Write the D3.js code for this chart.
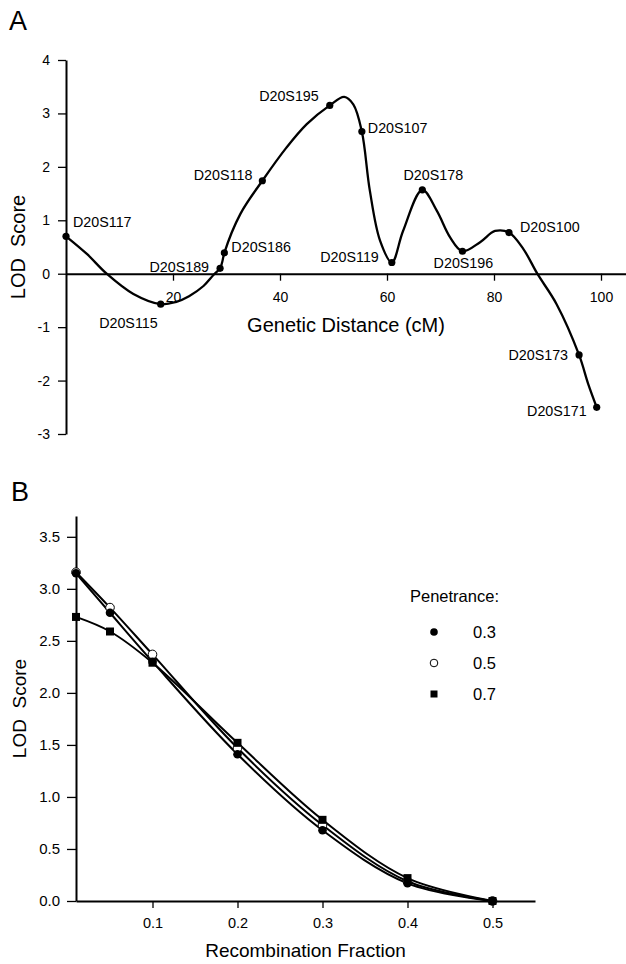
<!DOCTYPE html>
<html>
<head>
<meta charset="utf-8">
<script src="https://cdn.jsdelivr.net/npm/d3@7"></script>
<style>
  body { margin: 0; background: #fff; }
  svg { display: block; font-family: "Liberation Sans", Arial, sans-serif; }
</style>
</head>
<body>
<svg id="chart" width="626" height="964"></svg>
<script>
// ---- panel A: multipoint LOD along chromosome 20 ----
const markerNames = ["D20S117", "D20S115", "D20S189", "D20S186", "D20S118", "D20S195", "D20S107",
  "D20S119", "D20S178", "D20S196", "D20S100", "D20S173", "D20S171"];
const markerCM = [0, 17.7, 28.8, 29.6, 36.7, 49.3, 55.3, 60.9, 66.6, 74.1, 82.8, 95.9, 99.2];
const markerLOD = [0.70, -0.57, 0.10, 0.39, 1.74, 3.15, 2.66, 0.21, 1.57, 0.42, 0.77, -1.52, -2.50];

// curve
const curveCM = [0, 3.9, 7.6, 12.6, 17.7, 20.5, 23.0, 25.7, 27.6, 28.8, 29.2, 29.6, 32.6, 36.7, 41.2, 45.0,
  49.3, 52.0, 53.7, 55.3, 56.8, 58.7, 60.9, 63.0, 66.6, 69.3, 71.8, 74.1, 77.4, 80.2, 82.8, 85.5,
  88.1, 91.7, 95.9, 97.6, 99.2];
const curveLOD = [0.70, 0.37, 0.0, -0.38, -0.57, -0.53, -0.42, -0.23, -0.02, 0.10, 0.22, 0.39, 1.12, 1.74, 2.36, 2.80,
  3.15, 3.31, 3.17, 2.66, 1.55, 0.62, 0.21, 0.80, 1.57, 1.18, 0.68, 0.42, 0.59, 0.80, 0.77, 0.46,
  0.0, -0.57, -1.52, -2.06, -2.50];

const ticksA_x = [20, 40, 60, 80, 100];
const ticksA_y = [-3, -2, -1, 0, 1, 2, 3, 4];

// ---- panel B: two-point LOD by penetrance ----
const theta = [0.01, 0.05, 0.1, 0.2, 0.3, 0.4, 0.5];
const lod03 = [3.15, 2.77, 2.30, 1.41, 0.68, 0.17, 0];
const lod05 = [3.16, 2.82, 2.37, 1.47, 0.73, 0.19, 0];
const lod07 = [2.73, 2.59, 2.29, 1.52, 0.78, 0.22, 0];
const penetrance = ["0.3", "0.5", "0.7"];
const ticksB_x = [0.1, 0.2, 0.3, 0.4, 0.5];
const ticksB_y = [0, 0.5, 1, 1.5, 2, 2.5, 3, 3.5];

// label placement for marker names
const labelPos = {
  D20S117: ["start", 7, -9], D20S115: ["end", -3, 24], D20S189: ["end", -11, 4],
  D20S186: ["start", 7, -1], D20S118: ["end", -10, -1], D20S195: ["end", -11, -4],
  D20S107: ["start", 6, 1], D20S119: ["end", -13, 0], D20S178: ["middle", 11, -10],
  D20S196: ["middle", 1, 17], D20S100: ["start", 11, -1], D20S173: ["end", -11, 5],
  D20S171: ["end", -10, 9]
};

const svg = d3.select("#chart");

function styleAxis(g, fontSize) {
  g.select(".domain").attr("stroke", "#000").attr("stroke-width", 2);
  g.selectAll(".tick line").attr("stroke", "#000").attr("stroke-width", 1.3);
  g.selectAll(".tick text").attr("fill", "#000").style("font-size", fontSize + "px")
    .style("font-family", "'Liberation Sans', Arial, sans-serif");
}

// ================= Panel A =================
const xA = d3.scaleLinear().domain([0, 105]).range([66, 627.75]);
const yA = d3.scaleLinear().domain([-3, 4]).range([434, 60]);

svg.append("text").attr("x", 9).attr("y", 30).style("font-size", "27px").text("A");

svg.append("g")
  .attr("transform", `translate(0,${yA(0)})`)
  .call(d3.axisBottom(xA).tickValues(ticksA_x).tickSize(7).tickPadding(11).tickSizeOuter(0))
  .call(g => styleAxis(g, 14));

svg.append("g")
  .attr("transform", `translate(${xA(0)},0)`)
  .call(d3.axisLeft(yA).tickValues(ticksA_y).tickFormat(d => String(d))
    .tickSize(8).tickPadding(8).tickSizeOuter(0))
  .call(g => styleAxis(g, 14));

svg.append("text")
  .attr("x", (xA.range()[0] + 626) / 2).attr("y", 332)
  .attr("text-anchor", "middle").style("font-size", "20px")
  .text("Genetic Distance (cM)");

svg.append("text")
  .attr("transform", `translate(25,${(yA(4) + yA(-3)) / 2}) rotate(-90)`)
  .attr("text-anchor", "middle").style("font-size", "20px").style("white-space", "pre")
  .text("LOD  Score");

const lineA = d3.line()
  .x((d, i) => xA(curveCM[i]))
  .y(d => yA(d))
  .curve(d3.curveCatmullRom.alpha(0.5));

svg.append("path")
  .datum(curveLOD)
  .attr("d", lineA)
  .attr("fill", "none").attr("stroke", "#000").attr("stroke-width", 2.3);

const markers = markerNames.map((n, i) => ({ name: n, cm: markerCM[i], lod: markerLOD[i] }));

svg.append("g").selectAll("circle")
  .data(markers).join("circle")
  .attr("cx", d => xA(d.cm)).attr("cy", d => yA(d.lod)).attr("r", 3.6).attr("fill", "#000");

svg.append("g").selectAll("text")
  .data(markers).join("text")
  .attr("x", d => xA(d.cm) + labelPos[d.name][1])
  .attr("y", d => yA(d.lod) + labelPos[d.name][2])
  .attr("text-anchor", d => labelPos[d.name][0])
  .style("font-size", "14.3px")
  .text(d => d.name);

// ================= Panel B =================
const xB = d3.scaleLinear().domain([0.01, 0.55]).range([76, 535]);
const yB = d3.scaleLinear().domain([0, 3.7]).range([901, 516]);

svg.append("text").attr("x", 11).attr("y", 501).style("font-size", "27px").text("B");

svg.append("g")
  .attr("transform", `translate(0,${yB(0)})`)
  .call(d3.axisBottom(xB).tickValues(ticksB_x).tickFormat(d3.format(".1f"))
    .tickSize(7).tickPadding(10).tickSizeOuter(0))
  .call(g => styleAxis(g, 14.5));

svg.append("g")
  .attr("transform", `translate(${xB(0.01)},0)`)
  .call(d3.axisLeft(yB).tickValues(ticksB_y).tickFormat(d3.format(".1f"))
    .tickSize(9).tickPadding(7).tickSizeOuter(0))
  .call(g => styleAxis(g, 15));

svg.append("text")
  .attr("x", (xB.range()[0] + xB.range()[1]) / 2).attr("y", 957)
  .attr("text-anchor", "middle").style("font-size", "19px")
  .text("Recombination Fraction");

svg.append("text")
  .attr("transform", `translate(26,${(yB(0) + yB(3.7)) / 2}) rotate(-90)`)
  .attr("text-anchor", "middle").style("font-size", "19px").style("white-space", "pre")
  .text("LOD  Score");

const seriesB = [
  { key: penetrance[1], vals: lod05, shape: "open" },
  { key: penetrance[0], vals: lod03, shape: "dot" },
  { key: penetrance[2], vals: lod07, shape: "square" }
];

const lineB = d3.line()
  .x((d, i) => xB(theta[i]))
  .y(d => yB(d))
  .curve(d3.curveCatmullRom.alpha(0.5));

svg.append("g").selectAll("path")
  .data(seriesB).join("path")
  .attr("d", d => lineB(d.vals))
  .attr("fill", "none").attr("stroke", "#000").attr("stroke-width", 2);

function drawSymbol(g, shape, x, y, size) {
  if (shape === "square") {
    g.append("rect").attr("x", x - size).attr("y", y - size)
      .attr("width", size * 2).attr("height", size * 2).attr("fill", "#000");
  } else {
    g.append("circle").attr("cx", x).attr("cy", y).attr("r", size)
      .attr("fill", shape === "open" ? "#fff" : "#000")
      .attr("stroke", "#000").attr("stroke-width", shape === "open" ? 1 : 0);
  }
}

const symG = svg.append("g");
seriesB.forEach(s => {
  s.vals.forEach((v, i) => drawSymbol(symG, s.shape, xB(theta[i]), yB(v), s.shape === "square" ? 4 : 4.3));
});

// legend
const legend = svg.append("g");
legend.append("text").attr("x", 410).attr("y", 602).style("font-size", "16.5px").text("Penetrance:");
const legendItems = [
  { label: penetrance[0], shape: "dot" },
  { label: penetrance[1], shape: "open" },
  { label: penetrance[2], shape: "square" }
];
legendItems.forEach((d, i) => {
  const cy = 632 + i * 31;
  drawSymbol(legend, d.shape, 434, cy, d.shape === "square" ? 3.5 : 3.8);
  legend.append("text").attr("x", 473).attr("y", cy + 6).style("font-size", "16.5px").text(d.label);
});
</script>
</body>
</html>
